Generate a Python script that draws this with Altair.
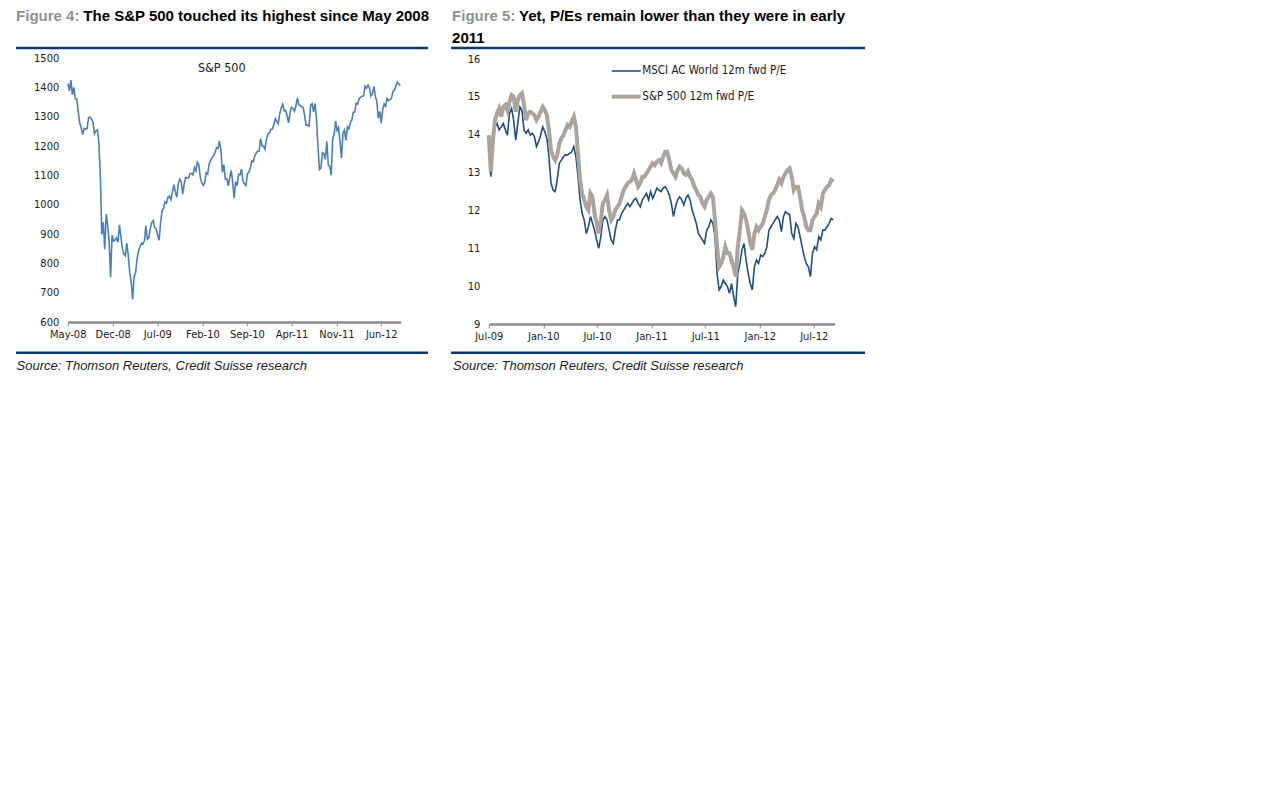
import altair as alt
import pandas as pd

# ---------------- data ----------------
SP_START = "2008-05-02"  # weekly closes of the S&P 500
sp500_close = [
    1413, 1388, 1425, 1375, 1400,
    1360, 1360, 1317, 1278,
    1262, 1239, 1260, 1257, 1260,
    1296, 1298, 1292, 1283,
    1242, 1252, 1255, 1213,
    1099, 899, 940, 848, 968,
    930, 873, 752, 896,
    876, 879, 887, 872, 931,
    890, 850, 832, 826,
    869, 827, 770, 735,
    677, 756, 768, 815,
    842, 857, 869, 866, 877,
    929, 882, 887, 919,
    940, 946, 921, 918,
    896, 879, 940, 979, 987,
    1010, 1005, 1026, 1029,
    1016, 1042, 1068, 1044,
    1025, 1071, 1087, 1079, 1036,
    1069, 1093, 1091, 1091,
    1106, 1106, 1102, 1127, 1115,
    1145, 1136, 1092, 1074,
    1066, 1075, 1109, 1104,
    1139, 1150, 1160, 1167,
    1178, 1194, 1192, 1217, 1187,
    1111, 1136, 1087, 1089,
    1064, 1092, 1117, 1076,
    1022, 1078, 1065, 1103, 1102,
    1121, 1079, 1071, 1065,
    1105, 1110, 1125, 1149,
    1146, 1166, 1176, 1183, 1183,
    1225, 1199, 1199, 1189,
    1225, 1240, 1244, 1257, 1258,
    1272, 1293, 1283, 1276,
    1310, 1329, 1343, 1320,
    1321, 1304, 1279, 1313,
    1332, 1328, 1319, 1337, 1364,
    1340, 1338, 1333, 1331,
    1300, 1271, 1271, 1268,
    1339, 1344, 1316, 1345, 1292,
    1199, 1120, 1124, 1177,
    1174, 1154, 1216, 1136, 1131,
    1100, 1224, 1238, 1285,
    1253, 1263, 1216, 1159,
    1244, 1255, 1219, 1265, 1258,
    1278, 1289, 1315, 1316,
    1345, 1343, 1362, 1366,
    1370, 1371, 1404, 1397, 1408,
    1398, 1370, 1378, 1403,
    1369, 1353, 1295, 1318,
    1278, 1325, 1343, 1335, 1362,
    1355, 1357, 1363, 1386,
    1391, 1405, 1418, 1411, 1407,
]

PE_START = "2009-07-01"  # weekly readings of 12m forward P/E
sp500_pe = [
    13.99, 13.03, 13.86, 14.39, 14.57, 14.70, 14.48, 14.74, 14.79, 14.65,
    14.88, 15.05, 15.01, 14.61, 14.92, 15.05, 15.10, 14.79, 14.39, 14.57,
    14.61, 14.57, 14.52, 14.39, 14.48, 14.61, 14.74, 14.65, 14.52, 14.13,
    13.60, 13.42, 13.33, 13.47, 13.77, 13.91, 13.99, 14.13, 14.26, 14.21,
    14.35, 14.48, 14.21, 13.51, 12.81, 12.45, 12.28, 12.10, 12.01, 12.45,
    12.36, 11.92, 11.66, 11.39, 11.75, 12.19, 12.28, 12.41, 12.01, 11.75,
    11.84, 12.01, 12.10, 12.19, 12.36, 12.54, 12.63, 12.72, 12.76, 12.81,
    12.98, 12.81, 12.63, 12.72, 12.89, 12.89, 12.98, 13.07, 13.16, 13.25,
    13.20, 13.29, 13.33, 13.25, 13.42, 13.55, 13.55, 13.33, 13.07, 12.98,
    12.89, 13.07, 13.16, 13.11, 12.98, 12.94, 13.03, 12.89, 12.81, 12.63,
    12.54, 12.41, 12.36, 12.19, 12.10, 12.28, 12.36, 12.45, 12.36, 11.75,
    11.04, 10.51, 10.60, 10.78, 11.04, 10.87, 10.87, 10.69, 10.51, 10.25,
    11.04, 11.48, 12.01, 11.92, 11.75, 11.48, 11.13, 10.96, 11.39, 11.57,
    11.48, 11.57, 11.66, 11.84, 12.01, 12.28, 12.41, 12.45, 12.54, 12.67,
    12.81, 12.72, 12.89, 12.98, 13.07, 13.11, 12.89, 12.54, 12.63, 12.63,
    12.36, 12.01, 11.84, 11.57, 11.48, 11.48, 11.75, 11.84, 11.92, 12.19,
    12.10, 12.45, 12.54, 12.63, 12.67, 12.81, 12.76,
]
msci_pe = [
    13.95, 12.89, 13.69, 14.21, 14.30, 14.13, 14.21, 14.30, 14.13, 13.99,
    14.57, 14.70, 14.39, 13.86, 14.30, 14.74, 14.65, 14.13, 14.04, 14.13,
    13.99, 14.04, 13.95, 13.69, 13.82, 13.99, 14.21, 14.08, 13.91, 13.42,
    12.72, 12.54, 12.50, 12.81, 13.25, 13.33, 13.42, 13.47, 13.47, 13.51,
    13.55, 13.69, 13.42, 12.89, 12.28, 11.92, 11.75, 11.39, 11.57, 11.84,
    11.66, 11.48, 11.22, 11.00, 11.31, 11.75, 11.84, 11.75, 11.48, 11.22,
    11.13, 11.48, 11.75, 11.75, 11.92, 12.01, 12.10, 12.19, 12.10, 12.19,
    12.28, 12.32, 12.19, 12.10, 12.28, 12.36, 12.45, 12.28, 12.50, 12.32,
    12.45, 12.59, 12.54, 12.50, 12.59, 12.63, 12.54, 12.41, 12.19, 11.84,
    12.10, 12.28, 12.36, 12.28, 12.14, 12.32, 12.41, 12.28, 12.01, 11.84,
    11.66, 11.39, 11.31, 11.22, 11.13, 11.48, 11.57, 11.75, 11.66, 11.31,
    10.34, 9.90, 9.99, 10.16, 10.07, 9.99, 9.81, 10.07, 9.72, 9.46,
    10.34, 10.60, 10.96, 11.13, 10.69, 10.34, 10.07, 9.90, 10.51, 10.69,
    10.60, 10.82, 10.78, 10.87, 11.04, 11.48, 11.57, 11.66, 11.75, 11.84,
    11.75, 11.44, 11.84, 11.97, 11.92, 11.88, 11.39, 11.26, 11.66, 11.57,
    11.31, 11.04, 10.78, 10.60, 10.51, 10.25, 10.87, 11.04, 10.96, 11.31,
    11.22, 11.48, 11.48, 11.57, 11.66, 11.79, 11.75,
]

sp_ticks = ["2008-05-01", "2008-12-01", "2009-07-01", "2010-02-01",
            "2010-09-01", "2011-04-01", "2011-11-01", "2012-06-01"]
pe_ticks = ["2009-07-01", "2010-01-01", "2010-07-01", "2011-01-01",
            "2011-07-01", "2012-01-01", "2012-07-01"]
sp_y_ticks = [600, 700, 800, 900, 1000, 1100, 1200, 1300, 1400, 1500]
pe_y_ticks = [9, 10, 11, 12, 13, 14, 15, 16]
SP_DOMAIN = ["2008-05-01", "2012-09-02"]
PE_DOMAIN = ["2009-07-01", "2012-09-10"]

# ---------------- frames ----------------
sp_dates = pd.date_range(SP_START, periods=len(sp500_close), freq="7D")
sp_df = pd.DataFrame({"date": sp_dates.strftime("%Y-%m-%d"), "value": sp500_close})

pe_dates = pd.date_range(PE_START, periods=len(msci_pe), freq="7D").strftime("%Y-%m-%d")
msci_df = pd.DataFrame({"date": pe_dates, "value": msci_pe})
spe_df = pd.DataFrame({"date": pe_dates, "value": sp500_pe})


def ms(s):
    return int(pd.Timestamp(s).value // 10**6)


LAB_FONT = "Liberation Sans Narrow, Arial Narrow, DejaVu Sans Condensed, sans-serif"
MAIN_FONT = "Liberation Sans, Arial, sans-serif"
NAVY = "#0b3868"
GREY_T = "#8f8f8f"
TXT = "#1a1a1a"

x_axis_cfg = dict(
    domainColor="#8c8c8c", domainWidth=2.5, tickColor="#8c8c8c", tickSize=4,
    tickWidth=1, labelFont=LAB_FONT, labelFontSize=11, labelColor=TXT,
    labelPadding=2, grid=False, title=None, labelOverlap=False, labelFlush=False,
    labelExpr="utcFormat(datum.value, '%b-%y')",
)
y_axis_cfg = dict(
    domain=False, ticks=False, grid=False, labelPadding=9, title=None,
    labelFont=LAB_FONT, labelFontSize=11, labelColor=TXT, format="d",
)

one = alt.Data(values=[{"k": 1}])


def text(x, y, s, size=11, font=LAB_FONT, color=TXT, align="left",
         baseline="alphabetic", **kw):
    return alt.Chart(one).mark_text(
        align=align, baseline=baseline, font=font, fontSize=size, color=color, **kw
    ).encode(x=alt.value(x), y=alt.value(y), text=alt.value(s))


def hrule(x1, x2, y, color=NAVY, width=2.5):
    return alt.Chart(one).mark_rule(color=color, strokeWidth=width).encode(
        x=alt.value(x1), x2=alt.value(x2), y=alt.value(y))


# ---------------- left panel ----------------
LW, LH = 333, 264
sp_line = alt.Chart(sp_df).mark_line(color="#4a7ebb", strokeWidth=1.6).encode(
    x=alt.X("date:T",
            scale=alt.Scale(type="utc", domain=[ms(d) for d in SP_DOMAIN]),
            axis=alt.Axis(values=[ms(t) for t in sp_ticks], **x_axis_cfg)),
    y=alt.Y("value:Q", scale=alt.Scale(domain=[600, 1500], nice=False, zero=False),
            axis=alt.Axis(values=sp_y_ticks, **y_axis_cfg)),
)

left = alt.layer(
    sp_line,
    text(154, 10.3, "S&P 500", size=12.5, align="center", baseline="middle"),
    text(-51.7, -37, "Figure 4:", size=15, font=MAIN_FONT, color=GREY_T, fontWeight="bold"),
    text(15.6, -37, "The S&P 500 touched its highest since May 2008", size=15,
         font=MAIN_FONT, color="#000000", fontWeight="bold"),
    hrule(-51.7, 360.3, -10.1),
    hrule(-51.7, 360.3, 294.7),
    text(-51.2, 311.5, "Source: Thomson Reuters, Credit Suisse research", size=13,
         font=MAIN_FONT, color=TXT, fontStyle="italic"),
).properties(width=LW, height=LH)

# ---------------- right panel ----------------
RW, RH = 346, 266
pe_x = alt.X("date:T",
             scale=alt.Scale(type="utc", domain=[ms(d) for d in PE_DOMAIN]),
             axis=alt.Axis(values=[ms(t) for t in pe_ticks], **x_axis_cfg))
pe_y = alt.Y("value:Q", scale=alt.Scale(domain=[9, 16.03], nice=False, zero=False),
             axis=alt.Axis(values=pe_y_ticks, **y_axis_cfg))

msci_line = alt.Chart(msci_df).mark_line(color="#1f4f82", strokeWidth=1.6).encode(x=pe_x, y=pe_y)
spe_line = alt.Chart(spe_df).mark_line(color="#aba39c", strokeWidth=4).encode(x=pe_x, y=pe_y)

right = alt.layer(
    msci_line,
    spe_line,
    hrule(123, 152, 13, color="#1f4f82", width=1.6),
    text(153.6, 13, "MSCI AC World 12m fwd P/E", size=11.5, baseline="middle"),
    hrule(123, 152, 38.7, color="#aba39c", width=4),
    text(153.6, 38.7, "S&P 500 12m fwd P/E", size=11.5, baseline="middle"),
    text(-36.7, -37, "Figure 5:", size=15, font=MAIN_FONT, color=GREY_T, fontWeight="bold"),
    text(30.3, -37, "Yet, P/Es remain lower than they were in early", size=15,
         font=MAIN_FONT, color="#000000", fontWeight="bold"),
    text(-36.7, -15, "2011", size=15, font=MAIN_FONT, color="#000000", fontWeight="bold"),
    hrule(-37.7, 376.3, -10.1),
    hrule(-37.7, 376.3, 294.7),
    text(-35.7, 311.5, "Source: Thomson Reuters, Credit Suisse research", size=13,
         font=MAIN_FONT, color=TXT, fontStyle="italic"),
).properties(width=RW, height=RH)

chart = alt.hconcat(left, right, spacing=88, bounds="flush").properties(
    padding={"left": 6.75, "top": 1, "right": 5, "bottom": 5}
).configure_view(strokeWidth=0)

chart.save("out.html", embed_options={"renderer": "svg", "actions": False})
